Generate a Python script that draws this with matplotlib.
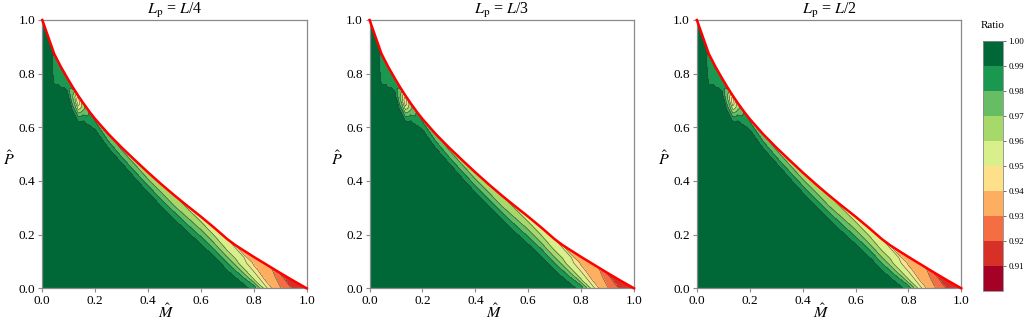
import numpy as np
import matplotlib
matplotlib.use('Agg')
import matplotlib.pyplot as plt

plt.rcParams['font.family'] = ['Liberation Serif', 'DejaVu Serif']
plt.rcParams['mathtext.fontset'] = 'stix'

# ---------------- data ----------------
titles = [r'$L_{\mathrm{p}}$ = $L$/4', r'$L_{\mathrm{p}}$ = $L$/3', r'$L_{\mathrm{p}}$ = $L$/2']

# columns along M-hat and the boundary (interaction curve) P-hat at each column
M_cols = [0.0, 0.045, 0.07, 0.095, 0.115, 0.135, 0.155, 0.18, 0.2, 0.25, 0.3,
          0.35, 0.4, 0.45, 0.5, 0.55, 0.6, 0.65, 0.7, 0.73, 0.76, 0.8, 0.84,
          0.87, 0.9, 0.95, 1.0]
boundary_P = [1.0, 0.874, 0.826, 0.783, 0.750, 0.719, 0.690, 0.656, 0.631,
              0.575, 0.525, 0.478, 0.432, 0.388, 0.346, 0.306, 0.267, 0.226,
              0.183, 0.161, 0.142, 0.117, 0.093, 0.075, 0.057, 0.028, 0.0]

# depth below the boundary curve (in P-hat units) of each table row
depth_rows = [0.0, 0.012, 0.025, 0.04, 0.06, 0.085, 0.11, 0.15, 0.25, 1.0]

# ratio values: one list per M column, one entry per depth row
ratio_cols = [
    [1, 1, 1, 1, 1, 1, 1, 1, 1, 1],                                      # 0.0
    [.991, .989, .988, .988, .988, .9885, .9895, .995, 1, 1],            # 0.045
    [.985, .985, .986, .987, .988, .991, .997, 1, 1, 1],                 # 0.07
    [.984, .985, .986, .988, .993, .999, 1, 1, 1, 1],                    # 0.095
    [.983, .978, .972, .97, .975, .988, 1, 1, 1, 1],                     # 0.115
    [.955, .945, .942, .95, .966, .984, .997, 1, 1, 1],                  # 0.135
    [.968, .966, .97, .978, .988, .996, 1, 1, 1, 1],                     # 0.155
    [.981, .983, .985, .988, .992, .998, 1, 1, 1, 1],                    # 0.18
    [.978, .9806, .985, .99, .995, 1, 1, 1, 1, 1],                       # 0.2
    [.971, .9749, .9792, .9855, .9925, .998, 1, 1, 1, 1],                # 0.25
    [.967, .9708, .9758, .9818, .9905, .997, 1, 1, 1, 1],                # 0.3
    [.965, .9683, .9728, .9788, .9874, .996, 1, 1, 1, 1],                # 0.35
    [.964, .9668, .9698, .9758, .984, .9935, .999, 1, 1, 1],             # 0.4
    [.963, .9655, .9683, .9729, .9812, .9908, .997, 1, 1, 1],            # 0.45
    [.9605, .9634, .9664, .97, .9787, .9883, .996, 1, 1, 1],             # 0.5
    [.957, .9606, .9643, .9686, .9763, .9857, .9945, .999, 1, 1],        # 0.55
    [.955, .958, .9617, .9667, .9742, .9838, .9925, .998, .999, 1],      # 0.6
    [.953, .9558, .9588, .9636, .9709, .9818, .9905, .997, .999, .999],  # 0.65
    [.951, .9534, .956, .959, .9665, .9778, .9887, .996, .999, .999],    # 0.7
    [.94, .9517, .9546, .9578, .9625, .975, .9875, .997, .998, .998],    # 0.73
    [.936, .938, .951, .9535, .9565, .97, .985, .995, .995, .995],       # 0.76
    [.935, .9365, .9383, .942, .953, .9607, .983, .985, .985, .985],     # 0.8
    [.932, .9335, .935, .9367, .94, .953, .957, .957, .957, .957],       # 0.84
    [.929, .931, .9328, .9349, .9377, .939, .939, .939, .939, .939],     # 0.87
    [.919, .9215, .9245, .928, .931, .931, .931, .931, .931, .931],      # 0.9
    [.915, .916, .917, .918, .918, .918, .918, .918, .918, .918],        # 0.95
    [.913, .913, .913, .913, .913, .913, .913, .913, .913, .913],        # 1.0
]

levels = [0.90, 0.91, 0.92, 0.93, 0.94, 0.95, 0.96, 0.97, 0.98, 0.99, 1.00]
cbar_ticks = [0.91, 0.92, 0.93, 0.94, 0.95, 0.96, 0.97, 0.98, 0.99, 1.00]
axis_ticks = [0.0, 0.2, 0.4, 0.6, 0.8, 1.0]

# ---------------- grid ----------------
Mc = np.array(M_cols)
Pb = np.array(boundary_P)
d = np.array(depth_rows)
X = np.tile(Mc, (len(d), 1))
Y = np.maximum(Pb[None, :] - d[:, None], 0.0)
Z = np.array(ratio_cols, dtype=float).T

cmap = plt.get_cmap('RdYlGn', 11)

W, H = 1024, 324
fig = plt.figure(figsize=(W / 100, H / 100), dpi=100)
lefts = [42.3, 369.6, 696.9]
ax_w, ax_b, ax_h = 264.4, 35.7, 268.3
gray = '#8a8a8a'

cf = None
for left, title in zip(lefts, titles):
    ax = fig.add_axes([left / W, ax_b / H, ax_w / W, ax_h / H])
    cf = ax.contourf(X, Y, Z, levels=levels, cmap=cmap)
    ax.contour(X, Y, Z, levels=levels[1:-1], colors='#3c3c3c', linewidths=0.35)
    ax.plot(M_cols, boundary_P, color='red', lw=1.8, zorder=5, clip_on=False)
    ax.set_xlim(0, 1)
    ax.set_ylim(0, 1)
    ax.set_xticks(axis_ticks)
    ax.set_yticks(axis_ticks)
    ax.set_xticklabels([f'{t:.1f}' for t in axis_ticks])
    ax.set_yticklabels([f'{t:.1f}' for t in axis_ticks])
    ax.tick_params(direction='out', length=3, width=0.8, color=gray,
                   labelsize=9.5, pad=2)
    for sp in ax.spines.values():
        sp.set_color(gray)
        sp.set_linewidth(0.9)
    ax.set_title(title, fontsize=11.5, pad=3)
    ax.set_xlabel(r'$\hat{M}$', fontsize=11.5, va='center', ha='center')
    ax.xaxis.set_label_coords(0.47, -0.09)
    ax.set_ylabel(r'$\hat{P}$', fontsize=11.5, rotation=0, va='center', ha='center')
    ax.yaxis.set_label_coords(-0.125, 0.48)

cax = fig.add_axes([982.7 / W, (H - 291) / H, 20.6 / W, 250.3 / H])
cb = fig.colorbar(cf, cax=cax, ticks=cbar_ticks)
cb.ax.set_yticklabels([f'{t:.2f}' for t in cbar_ticks])
cb.ax.tick_params(labelsize=6.5, length=2.5, width=0.6, color='#555555', pad=1)
cb.outline.set_edgecolor(gray)
cb.outline.set_linewidth(0.6)
cb.ax.set_title('Ratio', fontsize=8, pad=9)

fig.savefig('out.png', dpi=100)
